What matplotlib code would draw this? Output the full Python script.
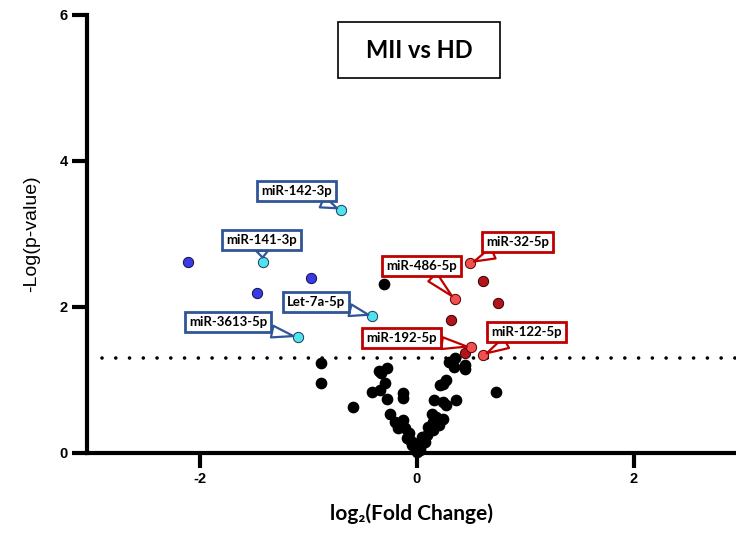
import matplotlib
matplotlib.use("Agg")
import matplotlib.pyplot as plt
from matplotlib.patches import Rectangle

plt.rcParams["axes.unicode_minus"] = False

# Data
black_x = [-0.30, -0.88, -0.88, -0.59, -0.35, -0.28, -0.33, -0.29, -0.41, -0.34,
           -0.28, -0.13, -0.13, -0.25, -0.20, -0.13, -0.17, -0.11, -0.09, -0.06,
           -0.05, -0.02, 0.00, 0.03, 0.30, 0.35, 0.34, 0.44, 0.44, 0.27, 0.24,
           0.21, 0.16, 0.24, 0.27, 0.36, 0.14, 0.18, 0.24, 0.15, 0.20, 0.10,
           0.15, 0.09, 0.06, 0.04, 0.07, 0.73, -0.07, 0.01, -0.03, 0.05]
black_y = [2.32, 1.23, 0.96, 0.63, 1.13, 1.16, 1.09, 0.96, 0.84, 0.86,
           0.74, 0.82, 0.76, 0.53, 0.43, 0.45, 0.34, 0.34, 0.20, 0.18,
           0.11, 0.09, 0.02, 0.04, 1.25, 1.30, 1.18, 1.21, 1.15, 1.00, 0.95,
           0.93, 0.73, 0.70, 0.66, 0.73, 0.54, 0.50, 0.47, 0.43, 0.38, 0.36,
           0.32, 0.25, 0.18, 0.11, 0.15, 0.84, 0.27, 0.06, 0.14, 0.22]

down_x = [-2.11, -1.47, -0.98]
down_y = [2.62, 2.19, 2.40]
up_x = [0.61, 0.75, 0.31, 0.44]
up_y = [2.36, 2.05, 1.82, 1.37]

down_labels = ["miR-142-3p", "miR-141-3p", "Let-7a-5p", "miR-3613-5p"]
down_lab_x = [-0.70, -1.42, -0.41, -1.10]
down_lab_y = [3.33, 2.62, 1.88, 1.59]
down_box_x = [-1.11, -1.43, -0.93, -1.74]
down_box_y = [3.59, 2.92, 2.07, 1.79]

up_labels = ["miR-32-5p", "miR-486-5p", "miR-192-5p", "miR-122-5p"]
up_lab_x = [0.49, 0.35, 0.50, 0.61]
up_lab_y = [2.60, 2.11, 1.45, 1.34]
up_box_x = [0.93, 0.04, -0.14, 1.01]
up_box_y = [2.89, 2.56, 1.58, 1.66]

x_ticks = [-2, 0, 2]
y_ticks = [0, 2, 4, 6]
p_cut = 1.301  # -log10(0.05)

fig = plt.figure(figsize=(7.36, 5.35), dpi=100)
ax = fig.add_axes([87 / 736, 82 / 535, 649 / 736, 438 / 535])
ax.set_xlim(-3.04, 2.94)
ax.set_ylim(0, 6)

ax.plot([-2.9, 2.94], [p_cut, p_cut], color="black", lw=2.6,
        linestyle=(0, (0.01, 3.8)), dash_capstyle="round", zorder=1)

ms = 55
ax.scatter(black_x, black_y, s=ms, color="black", zorder=3, clip_on=False)
ax.scatter(down_x, down_y, s=ms, color="#3b3be6", edgecolor="#111144", lw=0.7, zorder=3)
ax.scatter(up_x, up_y, s=ms, color="#b3141a", edgecolor="#330000", lw=0.7, zorder=3)
ax.scatter(down_lab_x, down_lab_y, s=ms, color="#4fe3ee", edgecolor="#1a3a5a", lw=0.7, zorder=4)
ax.scatter(up_lab_x, up_lab_y, s=ms, color="#f05050", edgecolor="#550000", lw=0.7, zorder=4)

def callout(label, px, py, bx, by, col):
    ax.annotate(label, xy=(px, py), xytext=(bx, by), ha="center", va="center",
                fontsize=9.5, fontweight="bold", family=["Lato", "DejaVu Sans"],
                bbox=dict(boxstyle="square,pad=0.3", fc="white", ec=col, lw=2),
                arrowprops=dict(arrowstyle="wedge,tail_width=0.9,shrink_factor=0.5",
                                fc="white", ec=col, lw=1.6, shrinkA=0, shrinkB=3),
                zorder=5)

for lab, px, py, bx, by in zip(down_labels, down_lab_x, down_lab_y, down_box_x, down_box_y):
    callout(lab, px, py, bx, by, "#2f5597")
for lab, px, py, bx, by in zip(up_labels, up_lab_x, up_lab_y, up_box_x, up_box_y):
    callout(lab, px, py, bx, by, "#c00000")

for s in ["top", "right"]:
    ax.spines[s].set_visible(False)
for s in ["left", "bottom"]:
    ax.spines[s].set_linewidth(3)
ax.set_xticks(x_ticks)
ax.set_yticks(y_ticks)
ax.tick_params(width=3, length=11, direction="out", labelsize=10.5, pad=3)
for t in ax.get_xticklabels() + ax.get_yticklabels():
    t.set_fontweight("bold")
    t.set_family("Liberation Sans")

ax.set_ylabel("-Log(p-value)", fontsize=14, family="Liberation Sans", labelpad=14)
ax.set_xlabel("log\u2082(Fold Change)", fontsize=15, fontweight="bold",
              family=["Lato", "DejaVu Sans"], labelpad=12)

# Title box
fig.patches.append(Rectangle((338 / 736, 1 - 78 / 535), 162 / 736, 56 / 535,
                             transform=fig.transFigure, fc="white", ec="black", lw=1.2))
fig.text(419 / 736, 1 - 50 / 535, "MII vs HD", ha="center", va="center",
         fontsize=17, fontweight="bold", family=["Lato", "DejaVu Sans"])

fig.savefig("out.png", dpi=100)
